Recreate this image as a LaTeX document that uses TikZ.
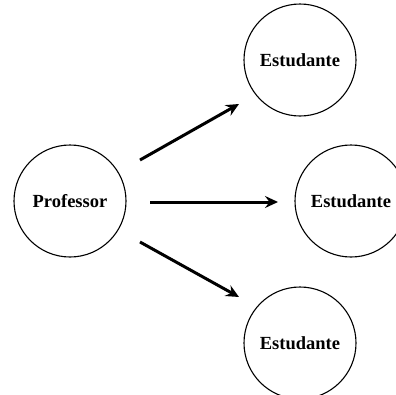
\documentclass[tikz,border=0pt]{standalone}
\usepackage{fontspec}
\setmainfont{Liberation Serif}
\usetikzlibrary{arrows.meta}
\begin{document}
\begin{tikzpicture}[x=1pt,y=-1pt,
  role/.style={circle,draw,line width=1.1pt,minimum size=112pt,inner sep=0pt,
    font=\fontsize{18.5}{20}\selectfont\bfseries},
  link/.style={line width=3pt,-{Stealth[length=13pt,width=12pt,inset=4.5pt]}}]
  \useasboundingbox (0,0) rectangle (396,394);
  \clip (0,0) rectangle (396,394);
  \node[role] (prof) at (70,201) {Professor};
  \node[role] (s1) at (300,60) {Estudante};
  \node[role] (s2) at (351,201) {Estudante};
  \node[role] (s3) at (300,343) {Estudante};
  \coordinate (a1) at (140,160);
  \coordinate (b1) at (239,104);
  \coordinate (a2) at (150,202);
  \coordinate (b2) at (278,202);
  \coordinate (a3) at (140,242);
  \coordinate (b3) at (239,297);
  \draw[link] (a1) -- (b1);
  \draw[link] (a2) -- (b2);
  \draw[link] (a3) -- (b3);
\end{tikzpicture}
\end{document}
